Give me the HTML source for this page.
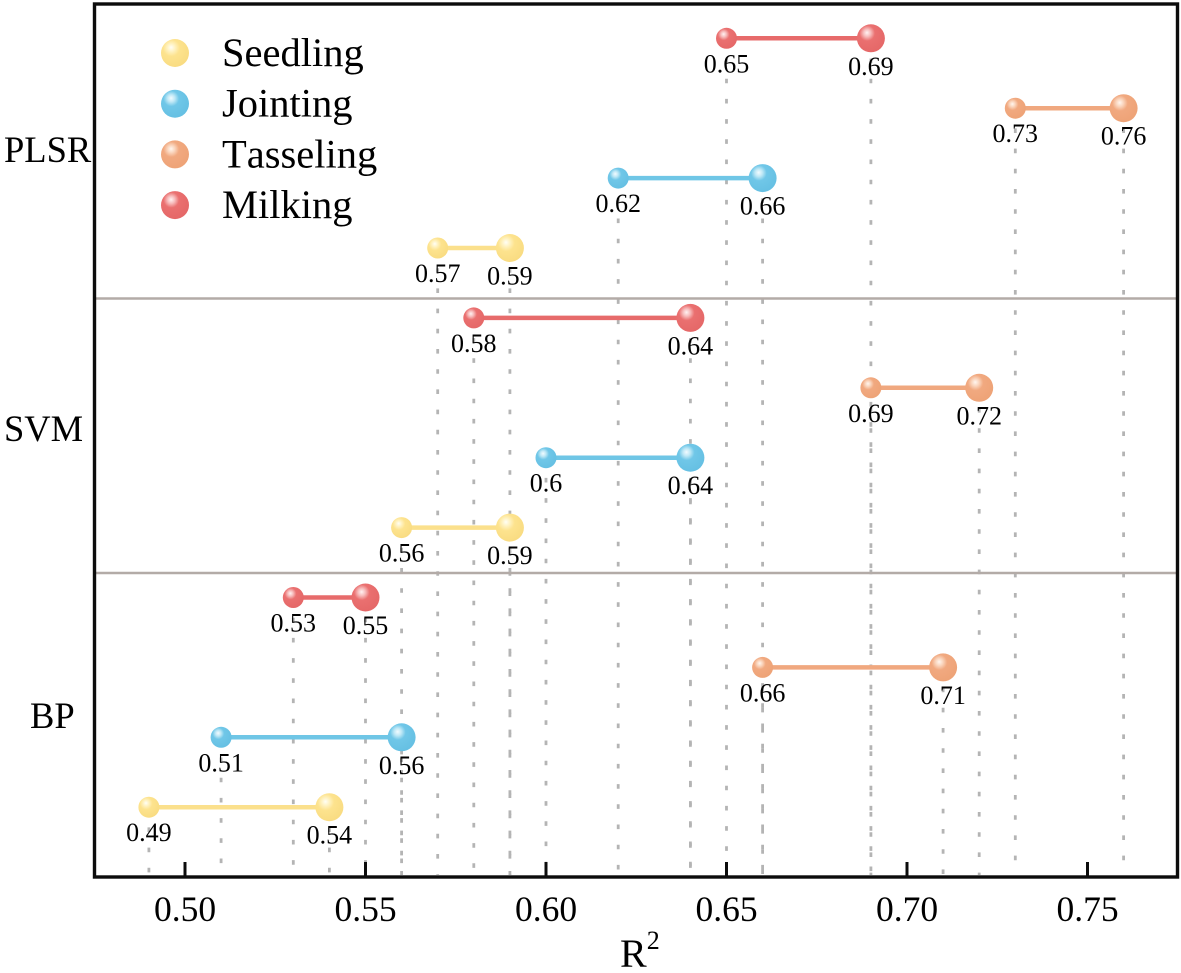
<!DOCTYPE html>
<html lang="en">
<head>
<meta charset="utf-8">
<title>R2 by model and growth stage</title>
<style>
html,body{margin:0;padding:0;background:#fff;width:1181px;height:973px;overflow:hidden}
svg{display:block}
text{font-family:"Liberation Serif",serif;fill:#000;font-kerning:none}
</style>
</head>
<body>
<svg id="chart" xmlns="http://www.w3.org/2000/svg" width="1181" height="973" viewBox="0 0 1181 973">
  <defs>
    <radialGradient id="ball-seedling" cx="0.38" cy="0.34" r="0.66" fx="0.36" fy="0.3">
      <stop offset="0" stop-color="#fffef6"/><stop offset="0.2" stop-color="#fff3c4"/><stop offset="0.45" stop-color="#fde38e"/><stop offset="1" stop-color="#f9dc82"/>
    </radialGradient>
    <radialGradient id="ball-jointing" cx="0.38" cy="0.34" r="0.66" fx="0.36" fy="0.3">
      <stop offset="0" stop-color="#f2fbff"/><stop offset="0.2" stop-color="#bfe8f6"/><stop offset="0.42" stop-color="#70c7e8"/><stop offset="1" stop-color="#66c0e3"/>
    </radialGradient>
    <radialGradient id="ball-tasseling" cx="0.38" cy="0.34" r="0.66" fx="0.36" fy="0.3">
      <stop offset="0" stop-color="#fff6ef"/><stop offset="0.2" stop-color="#fad5bd"/><stop offset="0.42" stop-color="#f1a980"/><stop offset="1" stop-color="#eea377"/>
    </radialGradient>
    <radialGradient id="ball-milking" cx="0.38" cy="0.34" r="0.66" fx="0.36" fy="0.3">
      <stop offset="0" stop-color="#fff2f2"/><stop offset="0.2" stop-color="#f7bcbc"/><stop offset="0.42" stop-color="#ea7070"/><stop offset="1" stop-color="#e56868"/>
    </radialGradient>
  </defs>
  <g id="guides"></g>
  <g id="separators"></g>
  <g id="series"></g>
  <g id="labels"></g>
  <g id="axis"></g>
  <rect x="94.5" y="4" width="1083" height="873" fill="none" stroke="#0c0c0c" stroke-width="3.4"/>
  <g id="model-labels">
    <text x="4" y="162" font-size="36.5">PLSR</text>
    <text x="4" y="441" font-size="36.5">SVM</text>
    <text x="30" y="728" font-size="36.5">BP</text>
  </g>
  <text x="620" y="967" font-size="40">R<tspan font-size="26" dy="-18">2</tspan></text>
  <g id="legend"></g>
</svg>
<script>
const stages = ["Milking", "Tasseling", "Jointing", "Seedling"];
const plsrLow = [0.65, 0.73, 0.62, 0.57];
const plsrHigh = [0.69, 0.76, 0.66, 0.59];
const svmLow = [0.58, 0.69, 0.6, 0.56];
const svmHigh = [0.64, 0.72, 0.64, 0.59];
const bpLow = [0.53, 0.66, 0.51, 0.49];
const bpHigh = [0.55, 0.71, 0.56, 0.54];
const xTicks = [0.5, 0.55, 0.6, 0.65, 0.7, 0.75];
const legendOrder = ["Seedling", "Jointing", "Tasseling", "Milking"];

const NS = "http://www.w3.org/2000/svg";
const lineColor = { Seedling: "#fbe08c", Jointing: "#6fc6e6", Tasseling: "#f0a87f", Milking: "#e76b6b" };
const x = v => 185 + (v - 0.5) * 3610;
const rowY = i => 38.3 + i * 69.9;

function make(parent, tag, attrs, text) {
  const el = document.createElementNS(NS, tag);
  for (const k in attrs) el.setAttribute(k, attrs[k]);
  if (text !== undefined) el.textContent = text;
  parent.appendChild(el);
  return el;
}

const guides = document.getElementById("guides");
const seriesG = document.getElementById("series");
const labels = document.getElementById("labels");
const axis = document.getElementById("axis");
const separators = document.getElementById("separators");
const legend = document.getElementById("legend");

function drawRow(lowVals, highVals, modelName, offset) {
  stages.forEach((stage, s) => {
    const y = rowY(offset + s);
    const key = stage.toLowerCase();
    const base = modelName + "-" + key;
    [lowVals[s], highVals[s]].forEach((v, j) => {
      const g = make(guides, "line", { x1: x(v), x2: x(v), y1: y, y2: 875, stroke: "#b4b4b4", "stroke-width": 2.8, "stroke-dasharray": "4.6 15.6" });
      
      
    });
    const ln = make(seriesG, "line", { x1: x(lowVals[s]), x2: x(highVals[s]), y1: y, y2: y, stroke: lineColor[stage], "stroke-width": 4.5 });
    
    
    const lo = make(seriesG, "circle", { cx: x(lowVals[s]), cy: y, r: 10.5, fill: "url(#ball-" + key + ")" });
    
    
    const hi = make(seriesG, "circle", { cx: x(highVals[s]), cy: y, r: 14, fill: "url(#ball-" + key + ")" });
    
    
    const t1 = make(labels, "text", { x: x(lowVals[s]), y: y + 34, "font-size": 26, "text-anchor": "middle" }, String(lowVals[s]));
    
    
    const t2 = make(labels, "text", { x: x(highVals[s]), y: y + 36.5, "font-size": 26, "text-anchor": "middle" }, String(highVals[s]));
    
    
  });
}

drawRow(plsrLow, plsrHigh, "plsr", 0);
drawRow(svmLow, svmHigh, "svm", 4);
drawRow(bpLow, bpHigh, "bp", 8);

[298.5, 573].forEach((yPos, i) => {
  const sep = make(separators, "line", { x1: 96, x2: 1176, y1: yPos, y2: yPos, stroke: "#b3aba7", "stroke-width": 2.4 });
  
  
});

xTicks.forEach(v => {
  const tick = make(axis, "line", { x1: x(v), x2: x(v), y1: 862, y2: 877, stroke: "#0c0c0c", "stroke-width": 3 });
  
  
  const tl = make(axis, "text", { x: x(v), y: 921, "font-size": 35.5, "text-anchor": "middle" }, v.toFixed(2));
  
  
});

legendOrder.forEach((stage, i) => {
  const cy = 53 + i * 50.7;
  const key = stage.toLowerCase();
  const dot = make(legend, "circle", { cx: 175, cy: cy, r: 14, fill: "url(#ball-" + key + ")" });
  
  
  const lbl = make(legend, "text", { x: 222, y: cy + 13, "font-size": 40.5 }, stage);
  
  
});
</script>
</body>
</html>
